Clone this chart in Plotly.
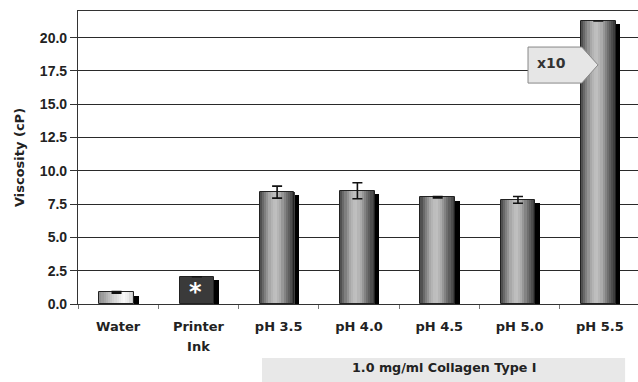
import plotly.graph_objects as go

categories = ["Water", "Printer<br>Ink", "pH 3.5", "pH 4.0", "pH 4.5", "pH 5.0", "pH 5.5"]
viscosity = [0.88, 2.05, 8.4, 8.5, 8.02, 7.82, 21.25]
errors = [0.06, 0.0, 0.45, 0.6, 0.05, 0.25, 0.0]
y_ticks = [0.0, 2.5, 5.0, 7.5, 10.0, 12.5, 15.0, 17.5, 20.0]
y_tick_labels = ["0.0", "2.5", "5.0", "7.5", "10.0", "12.5", "15.0", "17.5", "20.0"]
group_label = "1.0 mg/ml Collagen Type I"
scale_note = "x10"

# styling
BAR_LEFT = -0.235
BAR_W = 0.43
N = 16
SHADOW_DROP = 0.25
FONT = "DejaVu Sans, Liberation Sans, Arial, sans-serif"
FONT_Y = "Liberation Sans, Arial, sans-serif"

def grey(v):
    v = int(max(0, min(255, v)))
    return f"rgb({v},{v},{v})"

def profile(pts, t):
    for (a, va), (b, vb) in zip(pts, pts[1:]):
        if a <= t <= b:
            return va + (vb - va) * (t - a) / (b - a)
    return pts[-1][1]

CYL = [(0, 70), (0.12, 115), (0.3, 175), (0.45, 195), (0.6, 170), (0.8, 105), (1.0, 55)]
WAT = [(0, 140), (0.35, 200), (0.7, 250), (0.85, 235), (1.0, 190)]

fig = go.Figure()

# shadow
fig.add_trace(go.Bar(
    x=categories, y=[v - SHADOW_DROP for v in viscosity],
    width=BAR_W, offset=BAR_LEFT + 0.06,
    marker=dict(color="#000000", line=dict(width=0)),
    hoverinfo="skip", showlegend=False))

# gradient strips
for i in range(N):
    t = (i + 0.5) / N
    cols = []
    for k in range(len(categories)):
        if k == 0:
            cols.append(grey(profile(WAT, t)))
        elif k == 1:
            cols.append(grey(58))
        else:
            cols.append(grey(profile(CYL, t)))
    fig.add_trace(go.Bar(
        x=categories, y=viscosity,
        width=BAR_W / N + 0.002, offset=BAR_LEFT + i * BAR_W / N,
        marker=dict(color=cols, line=dict(width=0)),
        hoverinfo="skip", showlegend=False))

# outline + error bars
fig.add_trace(go.Bar(
    x=categories, y=viscosity,
    width=BAR_W, offset=BAR_LEFT,
    marker=dict(color="rgba(0,0,0,0)", line=dict(color="#222222", width=1)),
    error_y=dict(type="data", array=errors, visible=True, color="#111111", thickness=1.6, width=5),
    showlegend=False))

fig.update_layout(
    width=638, height=382,
    margin=dict(l=78, r=0, t=11, b=78, autoexpand=False),
    barmode="overlay",
    paper_bgcolor="white", plot_bgcolor="rgba(0,0,0,0)",
    font=dict(family=FONT, color="#222222"),
    bargap=0,
)

tick_text = [f"<span style='font-size:13px'>{c}</span>" for c in categories]

fig.update_xaxes(
    type="category", range=[-0.5, 6.475], automargin=False,
    tickvals=categories, ticktext=tick_text,
    showline=True, linecolor="#333333", linewidth=1.2, mirror=True,
    ticks="outside", tickson="boundaries", ticklen=4, tickcolor="#777777",
    ticklabelstandoff=7,
    showgrid=False,
    tickfont=dict(family=FONT, size=15.5, weight="bold", color="#222222"),
)
fig.update_yaxes(
    range=[0, 22], tickvals=y_ticks, ticktext=y_tick_labels, automargin=False,
    showline=True, linecolor="#333333", linewidth=1.2,
    ticks="outside", ticklen=7, tickcolor="#333333",
    showgrid=True, gridcolor="#2a2a2a", gridwidth=1.3,
    zeroline=False,
    tickfont=dict(family=FONT_Y, size=14, weight="bold", color="#222222"),
    title=dict(text="Viscosity (cP)", font=dict(family=FONT, size=13, weight="bold", color="#222222"), standoff=12),
)

# group band
fig.add_shape(type="rect", xref="paper", yref="paper",
              x0=0.3286, x1=0.977, y0=-0.27, y1=-0.184,
              fillcolor="#e8e8e8", line=dict(width=0))
fig.add_annotation(text=group_label, xref="paper", yref="paper", x=0.654, y=-0.218,
                   xanchor="center", yanchor="middle",
                   showarrow=False, font=dict(family=FONT, size=12.7, weight="bold", color="#222222"))

# asterisk on printer ink
fig.add_annotation(text="*", x=categories[1], y=viscosity[1] * 0.45, xref="x", yref="y",
                   xshift=-3, showarrow=False, font=dict(family=FONT, size=24, weight="bold", color="white"))

# x10 callout
fig.add_shape(type="path", xref="paper", yref="paper",
              path="M 0.8036 0.877 L 0.8996 0.877 L 0.9286 0.816 L 0.8996 0.754 L 0.8036 0.754 Z",
              fillcolor="#e6e6e6", line=dict(color="#888888", width=1))
fig.add_annotation(text=scale_note, xref="paper", yref="paper", x=0.846, y=0.822,
                   xanchor="center", yanchor="middle",
                   showarrow=False, font=dict(family=FONT, size=14, weight="bold", color="#333333"))

fig.write_html("out.html", config={"displayModeBar": False},
               post_script="document.body.style.margin='0';document.body.style.overflow='hidden';")
